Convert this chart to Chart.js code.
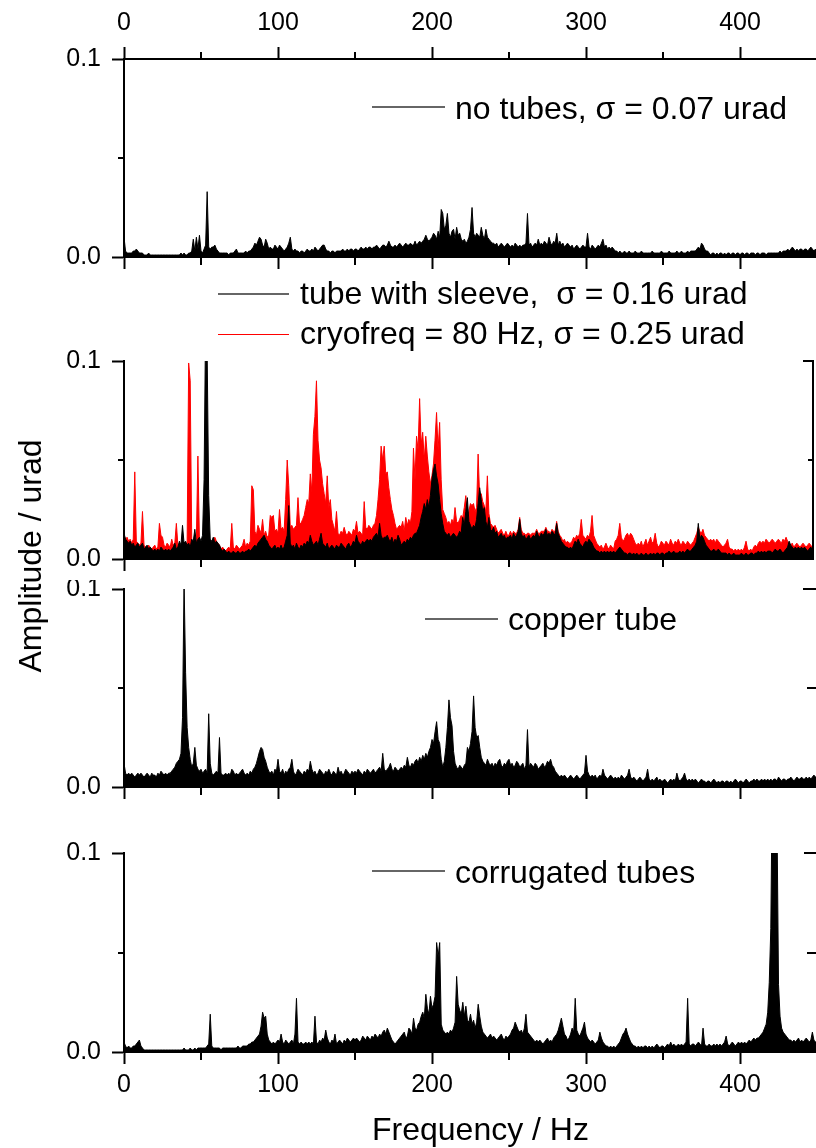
<!DOCTYPE html>
<html><head><meta charset="utf-8">
<script src="https://cdn.jsdelivr.net/npm/chart.js@4.4.0/dist/chart.umd.min.js"></script>
<style>
html,body{margin:0;padding:0;background:#fff;overflow:hidden;}
#wrap{position:relative;width:816px;height:1148px;overflow:hidden;background:#fff;}
canvas{position:absolute;left:0;}
.t{position:absolute;font-family:'Liberation Sans',Arial,sans-serif;font-size:32px;line-height:32px;color:#000;white-space:pre;z-index:2;}
.ln{position:absolute;height:2px;z-index:2;}
</style></head><body><div id="wrap">
<canvas id="c1" width="830" height="290" style="top:0px"></canvas>
<canvas id="c2" width="830" height="240" style="top:340px"></canvas>
<canvas id="c3" width="830" height="220" style="top:580px"></canvas>
<canvas id="c4" width="830" height="348" style="top:800px"></canvas>

<div class="ln" style="left:372px;top:106px;width:73px;background:#666"></div>
<div class="t" style="left:455px;top:92px">no tubes, σ = 0.07 urad</div>
<div class="ln" style="left:218px;top:293px;width:71px;background:#666"></div>
<div class="t" style="left:300px;top:277px">tube with sleeve,  σ = 0.16 urad</div>
<div class="ln" style="left:218px;top:334px;width:71px;height:1px;background:#f00"></div>
<div class="t" style="left:300px;top:317px">cryofreq = 80 Hz, σ = 0.25 urad</div>
<div class="ln" style="left:425px;top:618px;width:73px;background:#666"></div>
<div class="t" style="left:508px;top:603px">copper tube</div>
<div class="ln" style="left:372px;top:870px;width:73px;background:#666"></div>
<div class="t" style="left:455px;top:856px">corrugated tubes</div>
<div class="t" style="left:372px;top:1113px">Frequency / Hz</div>
<div class="t" style="left:-100px;top:540px;width:260px;text-align:center;transform:rotate(-90deg)">Amplitude / urad</div>
</div>
<script>
// ---- data: amplitude spectra, one value per 1 Hz bin starting at 0 Hz, in nrad (1e-3 urad) ----
const STEP_HZ = 1;
const NRAD_TO_URAD = 0.001;

const noTubes = [
10,3,2,2,2,2,3,3,4,3,
2,2,2,1,1,1,2,1,1,1,
1,1,1,1,1,1,1,1,1,1,
1,1,1,1,1,1,1,2,1,2,
1,1,2,2,3,9,3,10,4,11,
3,2,4,6,33,5,4,5,5,6,
4,3,2,2,2,2,2,2,1,2,
2,2,3,4,2,2,2,2,2,3,
2,3,3,4,5,7,6,8,10,9,
6,5,9,7,4,5,4,4,6,5,
4,6,5,4,3,4,5,7,10,4,
3,4,3,3,2,3,3,2,3,4,
3,3,4,3,5,4,3,4,5,6,
6,4,3,3,2,3,3,2,3,3,
3,3,4,3,3,4,3,4,4,3,
4,4,3,4,5,4,4,5,4,5,
5,4,5,5,6,5,4,5,6,6,
5,6,8,6,5,5,6,5,6,7,
6,5,6,7,6,6,7,6,6,8,
6,7,8,7,8,9,11,9,8,9,
10,12,11,9,13,10,24,22,14,16,
22,12,10,13,14,9,15,11,12,9,
8,9,7,8,10,14,25,12,10,12,
11,10,15,11,9,14,10,9,8,7,
7,6,7,5,6,7,6,5,6,7,
6,5,6,5,7,6,5,6,5,6,
6,7,22,6,7,5,6,7,6,9,
6,7,6,8,7,6,10,7,6,8,
7,12,6,8,6,7,5,6,7,6,
5,6,4,5,6,5,4,5,6,5,
5,12,5,4,6,5,4,5,6,5,
7,9,5,6,4,5,4,5,4,3,
3,2,3,2,2,3,2,2,3,2,
2,2,3,2,2,2,3,2,2,2,
2,2,2,3,2,2,2,2,2,3,
2,2,2,2,3,2,2,2,2,3,
2,2,3,2,2,2,3,2,3,3,
3,3,4,5,4,7,6,4,3,3,
2,1,2,2,1,2,1,2,2,1,
2,1,2,2,1,2,2,1,2,2,
1,2,2,1,2,2,1,2,2,2,
1,2,2,1,2,2,2,1,2,2,
2,2,2,2,2,2,3,2,3,3,
3,4,3,4,5,4,3,4,3,4,
4,3,4,4,3,4,5,4,3,4,
3];

const tubeWithSleeve = [
13,10,9,8,9,7,8,6,7,8,
6,7,8,5,6,7,5,6,5,4,
5,4,5,4,6,5,4,5,4,5,
4,5,6,8,5,6,9,7,17,8,
9,7,8,6,10,9,15,8,10,11,
9,12,40,120,105,32,10,9,11,8,
9,8,7,5,4,5,4,3,4,3,
3,4,3,3,4,3,3,4,3,4,
4,5,4,5,6,7,6,8,9,10,
11,12,10,9,7,6,5,6,7,5,
6,5,7,5,6,9,12,27,8,6,
7,5,8,6,5,7,6,8,7,9,
8,12,9,7,8,9,7,10,13,8,
7,6,8,5,6,7,6,5,7,6,
6,8,7,6,5,7,8,6,7,9,
8,12,9,8,7,9,8,9,10,9,
10,9,11,12,13,11,18,12,10,11,
11,12,10,9,11,8,10,9,12,10,
7,8,9,8,10,9,11,10,12,13,
13,15,17,21,24,28,25,30,26,32,
40,45,48,42,38,30,23,18,14,13,
12,13,11,12,13,12,11,12,14,13,
21,17,24,31,19,17,15,17,16,20,
28,36,30,24,26,19,16,21,15,14,
16,13,14,11,12,13,11,12,10,11,
11,12,10,13,11,12,14,20,13,11,
12,10,11,12,10,11,12,11,14,12,
11,13,12,13,15,12,13,12,14,13,
12,18,13,11,9,8,7,6,6,5,
6,5,7,9,8,10,8,7,6,8,
9,8,10,9,8,6,5,4,4,3,
4,3,4,3,4,3,4,3,4,3,
4,5,6,5,4,3,3,2,3,3,
2,3,2,3,2,2,3,2,2,3,
2,2,3,2,3,2,3,3,2,3,
3,2,3,3,4,3,3,4,3,3,
3,4,3,4,3,4,5,4,4,5,
6,7,9,18,10,12,11,9,7,6,
5,4,4,5,4,4,5,4,3,3,
3,3,2,3,2,2,3,2,2,2,
2,3,2,2,3,2,2,3,3,2,
3,3,4,3,4,3,4,3,4,4,
4,3,4,5,4,4,5,4,3,4,
5,6,9,7,6,5,6,5,6,5,
6,5,6,5,4,5,6,5,5,4,
5];

const cryofreq80 = [
12,10,11,9,10,8,10,44,9,8,
7,8,24,7,6,5,7,6,5,6,
7,5,6,18,12,11,7,6,8,7,
6,10,7,8,18,7,8,6,9,8,
7,8,99,90,8,9,7,10,52,9,
8,9,10,9,8,10,9,8,10,11,
9,8,7,5,6,5,4,5,6,5,
18,6,5,7,6,5,6,7,10,6,
8,7,9,37,35,14,12,17,15,13,
20,12,14,11,12,22,21,22,14,15,
13,25,15,16,14,30,50,37,16,17,
15,16,17,31,18,18,20,22,26,30,
28,43,34,63,72,90,60,50,46,38,
33,28,42,26,30,20,17,14,24,13,
12,14,13,16,13,12,14,13,12,15,
14,19,13,14,13,12,29,16,15,17,
16,15,17,18,22,30,40,57,50,57,
43,44,36,30,25,22,18,15,16,17,
16,19,14,21,17,20,18,24,56,40,
62,55,81,58,64,50,62,52,44,38,
42,48,60,74,55,69,40,25,23,21,
18,19,17,20,18,26,19,18,20,22,
21,26,32,22,24,28,27,28,24,26,
53,31,33,29,27,24,42,23,18,17,
16,17,15,13,14,15,13,12,14,12,
12,14,12,14,13,13,15,21,15,13,
13,12,13,13,12,13,13,13,15,13,
13,14,14,14,16,14,14,13,15,14,
14,19,14,12,11,9,10,8,9,8,
8,9,11,10,12,11,13,20,12,11,
10,12,11,14,22,12,10,8,7,6,
7,5,6,8,6,5,7,6,5,9,
10,12,18,11,9,10,12,13,11,13,
12,10,8,7,8,7,9,6,8,10,
7,9,11,8,9,13,8,6,7,9,
8,7,9,8,7,10,8,7,9,8,
10,8,7,9,8,7,9,8,7,8,
9,11,13,16,14,13,15,12,11,10,
9,10,9,10,8,10,9,8,7,6,
7,8,10,6,5,5,4,5,4,5,
4,5,4,6,9,5,4,5,4,6,
7,6,8,9,8,9,8,10,9,8,
9,10,9,8,9,10,9,8,10,9,
11,9,8,7,8,6,7,8,7,6,
7,8,7,6,7,8,7,6,7,6,
7];

const copperTube = [
12,7,6,7,6,7,6,5,6,7,
6,7,6,5,6,7,6,5,7,6,
6,5,7,6,8,7,6,7,6,7,
7,8,9,10,12,13,14,17,35,104,
58,30,20,14,10,12,20,11,9,8,
9,7,8,9,7,37,12,7,6,7,
8,7,25,7,6,6,7,6,7,6,
9,8,6,7,6,7,8,9,7,6,
7,6,8,7,9,10,12,15,18,20,
19,15,13,10,8,7,8,6,9,8,
14,8,7,9,6,8,7,9,10,14,
8,6,7,9,8,7,6,8,7,9,
8,13,9,7,8,6,7,9,8,7,
6,8,7,9,7,6,8,7,6,10,
7,8,6,7,9,8,7,6,8,7,
8,7,9,8,7,6,8,7,9,8,
7,8,9,7,8,9,10,8,17,9,
8,9,10,12,9,8,10,9,8,9,
10,9,11,10,15,11,10,12,11,13,
14,12,15,13,16,14,17,15,18,20,
24,22,28,33,24,22,14,10,13,20,
30,44,35,31,18,12,10,9,11,10,
9,11,12,20,18,22,28,46,30,25,
26,20,15,13,12,11,14,12,11,12,
10,12,11,13,14,11,10,12,11,13,
14,11,12,10,11,13,12,10,11,12,
9,11,29,10,12,11,10,12,11,9,
10,11,12,10,11,13,12,14,11,10,
8,7,6,5,6,5,6,5,4,5,
6,5,4,5,6,5,4,5,6,7,
16,8,6,5,6,5,6,4,5,6,
5,9,6,5,4,5,6,5,4,5,
4,5,4,6,5,4,5,6,9,5,
4,5,4,3,4,5,4,3,4,5,
9,4,3,4,3,4,5,3,4,3,
3,4,3,2,3,4,3,4,3,7,
4,3,4,5,7,4,3,4,3,4,
3,4,3,2,3,4,3,3,2,3,
3,2,3,4,3,2,3,2,3,3,
2,3,3,2,3,2,3,4,3,2,
3,3,2,3,4,3,2,3,3,4,
3,4,3,3,4,3,4,3,4,3,
4,3,4,4,3,5,4,3,4,4,
3,4,4,5,4,3,4,5,4,4,
5,4,4,5,4,5,4,5,6,5,
5];

const corrugatedTubes = [
5,3,2,3,2,2,3,3,4,5,
6,3,2,1,1,1,1,1,1,1,
1,1,1,1,1,1,1,1,1,1,
1,1,1,1,1,1,1,1,1,2,
1,1,1,2,1,1,2,1,2,2,
2,2,2,2,3,4,19,3,2,2,
2,2,2,1,2,2,2,2,2,2,
2,2,2,2,3,2,2,3,3,3,
3,4,4,5,5,6,7,8,9,13,
20,17,18,9,6,5,4,5,4,5,
6,5,9,5,4,6,5,4,5,6,
4,9,27,5,4,5,4,4,5,4,
5,4,5,4,18,5,4,6,5,7,
6,11,7,5,4,6,5,9,4,5,
6,5,4,6,5,7,6,5,6,7,
6,7,6,5,6,8,7,6,8,7,
6,8,7,9,8,7,9,8,10,11,
9,12,10,8,6,5,4,5,6,7,
8,9,10,7,8,12,11,9,17,12,
11,14,15,18,20,17,29,22,19,28,
22,24,28,55,48,55,14,11,10,9,
10,9,11,10,12,15,38,24,21,19,
25,18,23,16,15,19,14,16,12,15,
24,18,13,10,9,8,7,8,9,7,
8,7,6,7,8,9,7,6,8,7,
8,9,11,12,15,13,11,10,11,9,
12,19,10,9,8,7,6,5,6,5,
6,5,4,5,6,7,5,6,5,7,
8,9,11,14,17,13,9,8,6,7,
9,12,10,27,11,9,8,10,12,15,
9,7,6,5,6,5,4,5,6,10,
7,5,4,3,3,2,3,2,3,2,
3,4,5,7,9,10,12,9,7,5,
4,3,3,2,3,2,3,2,3,3,
2,3,2,3,2,3,4,3,2,3,
3,2,3,4,3,5,3,4,3,3,
4,3,4,3,4,5,27,4,3,4,
4,3,4,5,4,3,12,4,3,3,
4,3,3,4,3,4,3,4,3,4,
5,8,4,3,4,5,4,3,4,5,
4,5,4,5,4,5,6,5,6,7,
6,7,7,8,9,10,12,14,20,35,
62,140,160,150,120,34,18,12,10,9,
8,7,6,6,5,6,5,6,7,5,
6,5,6,7,6,5,6,10,6,5,
5];

// ---- axis ticks ----
const X_STEP = 50;            // tick spacing (Hz); labels on multiples of 100
const X_MINOR_TICKS = [50, 150, 250, 350, 450];
const Y_MAJOR_TICKS = [0, 0.1];
const Y_MINOR_TICK = 0.05;
const Y_MIN = 0, Y_MAX = 0.1;

// ---- drawing ----
Chart.defaults.font.family = "'Liberation Sans', Arial, sans-serif";
Chart.defaults.font.size = 25;
Chart.defaults.color = '#000';

const toPoints = vals => vals.map((v, i) => ({x: i * STEP_HZ, y: v * NRAD_TO_URAD}));
const isMajorX = v => Math.abs(v % 100) < 1e-6;
const isMajorY = v => Y_MAJOR_TICKS.some(t => Math.abs(t - v) < 1e-9);

const extraAxes = {
  id: 'extraAxes',
  afterDraw(chart, args, o) {
    const ctx = chart.ctx, a = chart.chartArea;
    const xs = chart.scales.x, ys = chart.scales.y;
    ctx.save();
    ctx.strokeStyle = '#000';
    ctx.lineWidth = 2;
    ctx.beginPath();
    X_MINOR_TICKS.forEach(v => {
      const px = Math.round(xs.getPixelForValue(v));
      if (px > a.right + 1) return;
      if (o.bottom) { ctx.moveTo(px, a.bottom); ctx.lineTo(px, a.bottom + 8); }
      if (o.top) { ctx.moveTo(px, a.top); ctx.lineTo(px, a.top - 7); }
    });
    const pm = Math.round(ys.getPixelForValue(Y_MINOR_TICK));
    ctx.moveTo(a.left - 6, pm); ctx.lineTo(a.left, pm);
    if (o.right) {
      ctx.moveTo(a.right, a.top - 1); ctx.lineTo(a.right, a.bottom + 1);
      Y_MAJOR_TICKS.forEach(v => {
        const p = Math.round(ys.getPixelForValue(v));
        ctx.moveTo(a.right - o.rightMajor, p); ctx.lineTo(a.right, p);
      });
      ctx.moveTo(a.right - o.rightMinor, pm); ctx.lineTo(a.right, pm);
    }
    ctx.stroke();
    ctx.restore();
  }
};

function xScale(position, max, showLabels, size, pad) {
  return {
    type: 'linear', axis: 'x', position, min: 0, max,
    afterFit: s => { s.height = size; s.paddingLeft = 0; s.paddingRight = 0; },
    ticks: {
      stepSize: X_STEP, includeBounds: false, autoSkip: false, maxRotation: 0, minRotation: 0,
      padding: pad,
      callback: v => (showLabels && isMajorX(v)) ? String(v) : ''
    },
    grid: {
      display: true, drawOnChartArea: false, drawTicks: true, tickLength: 12, tickWidth: 2,
      tickColor: c => isMajorX(c.tick.value) ? '#000' : 'rgba(0,0,0,0)'
    },
    border: {display: true, color: '#000', width: 2}
  };
}

function panel(id, cfg) {
  const scales = {
    x: xScale('bottom', cfg.xMax, cfg.bottomLabels, cfg.bottomH, 6),
    y: {
      type: 'linear', position: 'left', min: Y_MIN, max: Y_MAX,
      afterFit: s => { s.width = 124; s.paddingTop = 0; s.paddingBottom = 0; },
      ticks: {
        stepSize: 0.05, includeBounds: false, padding: 11,
        callback: v => Math.abs(v) < 1e-9 ? '0.0' : (Math.abs(v - 0.1) < 1e-9 ? '0.1' : '')
      },
      grid: {
        display: true, drawOnChartArea: false, drawTicks: true, tickLength: 12, tickWidth: 2,
        tickColor: c => isMajorY(c.tick.value) ? '#000' : 'rgba(0,0,0,0)'
      },
      border: {display: true, color: '#000', width: 2}
    }
  };
  if (cfg.topAxis) scales.xt = xScale('top', cfg.xMax, true, cfg.topH, 8.5);
  return new Chart(document.getElementById(id), {
    type: 'line',
    data: {
      datasets: cfg.series.map(s => ({
        label: s.label, data: toPoints(s.values),
        borderColor: s.color, backgroundColor: s.color, borderWidth: 1,
        fill: 'origin', pointRadius: 0, tension: 0, xAxisID: 'x', yAxisID: 'y'
      }))
    },
    options: {
      responsive: false, animation: false, events: [],
      layout: {padding: {top: cfg.padTop, right: cfg.padRight, left: 0, bottom: 0}},
      plugins: {
        legend: {display: false}, tooltip: {enabled: false},
        extraAxes: {bottom: true, top: !!cfg.topAxis, right: cfg.right, rightMajor: cfg.rightMajor, rightMinor: cfg.rightMinor}
      },
      scales
    },
    plugins: [extraAxes]
  });
}

panel('c1', {xMax: 450, padTop: 0, padRight: 13, topAxis: true, topH: 59, bottomH: 33, bottomLabels: false,
  right: false, series: [{label: 'no tubes', values: noTubes, color: '#000'}]});
panel('c2', {xMax: 447.5, padTop: 21, padRight: 17, bottomH: 21, bottomLabels: false,
  right: true, rightMajor: 10, rightMinor: 5,
  series: [{label: 'tube with sleeve', values: tubeWithSleeve, color: '#000'},
           {label: 'cryofreq = 80 Hz', values: cryofreq80, color: '#ff0000'}]});
panel('c3', {xMax: 450, padTop: 9, padRight: 13, bottomH: 13, bottomLabels: false,
  right: true, rightMajor: 14, rightMinor: 10,
  series: [{label: 'copper tube', values: copperTube, color: '#000'}]});
panel('c4', {xMax: 450, padTop: 53, padRight: 13, bottomH: 96, bottomLabels: true,
  right: true, rightMajor: 13, rightMinor: 10,
  series: [{label: 'corrugated tubes', values: corrugatedTubes, color: '#000'}]});
</script>
</body></html>
